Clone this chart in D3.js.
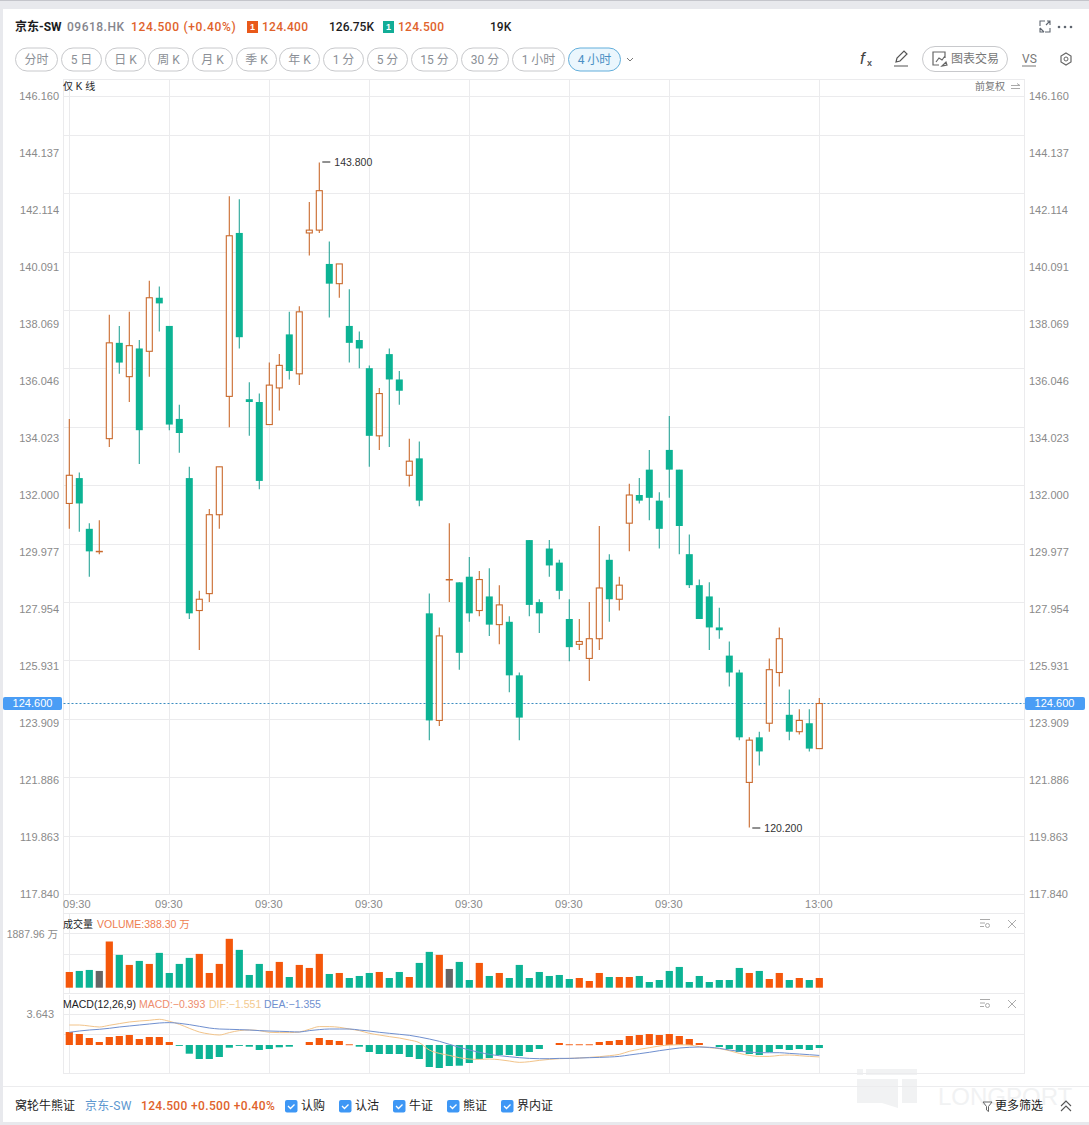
<!DOCTYPE html>
<html>
<head>
<meta charset="utf-8">
<script src="https://cdnjs.cloudflare.com/ajax/libs/d3/7.8.5/d3.min.js"></script>
<style>
	body { margin: 0; background: #fff; }
	svg { display: block; }
	text { font-family: "Liberation Sans", "Noto Sans CJK SC", sans-serif; }
	.din { font-family: Roboto, "Noto Sans CJK SC", sans-serif; }
	.tick text { fill: #8a8a8a; font-size: 11px; font-family: "Liberation Sans", sans-serif; }
</style>
</head>
<body>
<div id="chart"></div>
<script>
var opens = [131.7,132.6,130.8,130.0,134.0,137.4,136.2,137.2,137.1,139.0,138.0,134.7,132.6,127.9,128.5,131.3,135.5,141.3,135.4,135.3,134.5,135.8,137.7,136.3,141.3,141.4,140.2,139.5,138.0,137.5,136.5,134.1,137.0,136.1,132.7,133.3,127.8,124.0,129.0,128.9,129.1,127.9,128.4,127.4,127.5,125.6,130.4,128.2,130.1,129.6,127.6,126.7,126.2,126.9,129.7,128.3,131.0,132.0,132.9,131.8,133.6,132.9,129.9,128.8,128.4,127.3,126.3,125.7,121.8,123.4,123.9,125.7,124.2,123.6,123.9,123.0]
var closes = [132.7,131.7,130.0,130.0,137.4,136.7,137.3,134.3,139.0,138.8,134.5,134.2,127.8,128.3,131.3,133.0,141.2,137.6,135.3,132.5,135.9,136.6,136.4,138.5,141.4,142.8,139.5,140.2,137.4,137.2,134.1,135.6,136.1,135.7,133.2,131.8,124.0,127.0,129.0,126.4,127.8,129.0,127.4,128.1,125.6,124.1,128.1,127.8,129.5,128.6,126.6,126.8,126.9,128.7,128.3,128.8,132.0,131.8,131.9,130.8,132.9,130.9,128.8,127.6,127.3,127.2,125.7,123.4,123.3,122.9,125.8,126.9,123.6,124.0,123.0,124.6]
var highs = [134.7,132.8,131.0,131.1,138.4,138.0,138.5,137.5,139.6,139.4,138.0,135.2,133.0,128.6,131.5,133.0,142.6,142.5,136.0,135.6,136.7,137.0,138.5,138.7,142.4,143.8,141.0,140.2,139.3,137.8,136.6,135.8,137.2,136.4,134.0,133.9,128.5,127.3,131.0,128.9,129.8,129.3,129.4,128.8,127.7,125.7,130.4,128.3,130.4,129.7,128.3,127.6,128.2,130.9,129.9,129.1,132.4,132.6,133.6,132.1,134.8,132.9,130.6,129.0,128.9,128.0,126.8,125.8,123.4,123.6,126.2,127.3,125.1,124.4,124.4,124.8]
var lows = [130.8,130.7,129.1,129.9,133.7,136.3,135.3,133.1,136.2,137.8,134.3,133.5,127.6,126.5,128.2,130.8,134.4,137.2,134.1,132.2,134.5,135.0,136.1,135.9,140.5,141.3,138.3,139.0,136.7,136.5,133.0,133.6,133.7,135.2,132.3,131.6,123.3,123.8,128.2,125.8,127.5,127.7,127.0,126.7,125.0,123.3,127.7,127.1,129.1,128.3,126.1,126.5,125.4,126.5,127.5,127.9,130.0,131.7,131.1,130.1,131.9,129.9,128.7,127.6,126.5,126.9,125.2,123.3,120.2,122.4,123.6,125.2,123.3,123.5,122.9,123.0]
// 成交量,单位万
var volumes = [629,670,710,670,1848,1312,911,1071,951,1393,589,951,1192,1352,589,951,1955,1513,509,951,670,1031,428,911,790,1352,549,589,388,469,589,629,388,629,428,991,1433,1312,750,1031,308,991,469,589,388,911,388,629,469,509,348,388,268,589,428,428,428,469,228,308,670,830,228,469,228,308,308,790,589,670,348,589,308,388,308,388.3]
var macdBars = [1.69,1.43,0.91,0.39,1.04,1.17,1.30,0.78,1.04,1.04,0.39,-0.04,-1.13,-1.82,-1.82,-1.56,-0.35,-0.09,-0.22,-0.65,-0.52,-0.30,-0.22,0,0.39,0.91,0.65,0.52,0.09,-0.22,-0.91,-1.17,-1.17,-1.17,-1.56,-1.82,-2.86,-2.99,-2.73,-2.69,-2.34,-1.82,-1.69,-1.30,-1.30,-1.43,-0.91,-0.52,0,0.26,0.09,0.09,0.09,0.39,0.52,0.65,1.17,1.30,1.43,1.30,1.43,1.17,0.78,0.26,0,-0.26,-0.52,-0.91,-1.17,-1.30,-0.91,-0.52,-0.65,-0.52,-0.65,-0.393]
var difLine = [2.60,2.60,2.47,2.34,2.56,2.78,2.99,3.12,3.21,3.34,3.08,2.69,2.17,1.69,1.43,1.30,1.61,1.87,1.95,1.87,1.65,1.61,1.61,1.69,2.04,2.39,2.39,2.30,2.08,1.87,1.52,1.30,1.09,0.91,0.65,0.30,-0.65,-1.09,-1.35,-1.65,-1.82,-1.87,-1.82,-1.91,-2.08,-2.26,-2.17,-2.00,-1.87,-1.78,-1.74,-1.69,-1.61,-1.52,-1.39,-1.22,-0.82,-0.56,-0.35,-0.13,0,0.04,0,-0.22,-0.35,-0.48,-0.74,-1.09,-1.35,-1.48,-1.48,-1.35,-1.30,-1.39,-1.48,-1.551]
var deaLine = [1.65,1.82,1.95,2.04,2.17,2.34,2.47,2.60,2.73,2.86,2.91,2.82,2.65,2.43,2.21,2.08,2.04,2.00,1.95,1.87,1.82,1.78,1.74,1.69,1.87,2.00,2.08,2.08,2.08,1.95,1.82,1.65,1.52,1.39,1.26,1.04,0.78,0.48,0.09,-0.30,-0.65,-0.95,-1.22,-1.39,-1.52,-1.65,-1.74,-1.78,-1.78,-1.74,-1.74,-1.69,-1.65,-1.61,-1.56,-1.48,-1.30,-1.13,-0.95,-0.74,-0.56,-0.39,-0.30,-0.26,-0.30,-0.43,-0.65,-0.82,-0.91,-1.00,-1.00,-1.00,-1.09,-1.17,-1.26,-1.355]

var priceTicks = [146.16,144.137,142.114,140.091,138.069,136.046,134.023,132,129.977,127.954,125.931,123.909,121.886,119.863,117.84]
var gridPrices = [146.16,144.78,142.71,140.64,138.56,136.49,134.42,132.35,130.27,128.20,126.13,124.06,121.99,119.91,117.84]
var timeIndex = [0,10,20,30,40,50,60,75]
var timeLabels = ['09:30','09:30','09:30','09:30','09:30','09:30','09:30','13:00']
var periods = ['分时','5 日','日 K','周 K','月 K','季 K','年 K','1 分','5 分','15 分','30 分','1 小时','4 小时']
var periodLeft = [15,61,105,148,192,236,279,323,367,411,461,512,568]
var periodRight = [57,101,145,188,232,276,319,363,407,457,508,564,620]
var warrants = ['认购','认沽','牛证','熊证','界内证']
var warrantLeft = [285,339,393,447,501]

var width = 1089, height = 1125
var left = 63.5, right = 1024.5
var upColor = '#c9692c', upFill = '#f4570b', downColor = '#0cb394', downWick = '#2aa598', flatColor = '#666'

var svg = d3.select('#chart').append('svg')
	.attr('width', width)
	.attr('height', height)

svg.append('rect').attr('width', width).attr('height', height).attr('fill', '#e8e9ed')
svg.append('rect').attr('width', width).attr('height', 1).attr('fill', '#c4c5cb')
svg.append('rect').attr('x', 3).attr('y', 9).attr('width', width - 3).attr('height', 1113).attr('fill', '#fff')

var x = d3.scaleLinear().domain([0, 75]).range([69.3, 819.3])
var y = d3.scaleLinear().domain([117.84, 146.16]).range([894, 96])
var yVol = d3.scaleLinear().domain([0, 1887.96]).range([987.7, 940.5])
var yMacd = d3.scaleLinear().domain([-2.6, 3.9]).range([1065, 1015])

function label(txt, px, py, size, color, opts) {
	opts = opts || {}
	return svg.append('text')
		.attr('x', px).attr('y', py)
		.attr('dy', '0.35em')
		.attr('font-size', size)
		.attr('fill', color)
		.attr('font-weight', opts.weight || 400)
		.attr('text-anchor', opts.anchor || 'start')
		.attr('letter-spacing', opts.ls || 0)
		.attr('class', opts.cls || null)
		.text(txt)
}

function hline(py, x1, x2, color) {
	svg.append('line').attr('x1', x1).attr('x2', x2).attr('y1', py).attr('y2', py)
		.attr('stroke', color || '#ebebed').attr('stroke-width', 1)
}

function vline(px, y1, y2, color) {
	svg.append('line').attr('x1', px).attr('x2', px).attr('y1', y1).attr('y2', y2)
		.attr('stroke', color || '#ebebed').attr('stroke-width', 1)
}

// watermark
var mark = svg.append('g').attr('fill', '#f1f2f3')
mark.append('path').attr('d', 'M857 1069h6v6h-6zM866 1069h51v6h-51zM857 1079h41v29l-16-5h-25zM902 1079h15v24h-15z')
mark.append('text').attr('x', 938).attr('y', 1105).attr('font-size', 24).text('LONGPORT')

// grid
hline(79.5, left, right)
gridPrices.forEach(function (d) { hline(Math.round(y(d)) + 0.5, left, right) })
;[913.5, 933.5, 954.5, 993.5, 1014.5, 1034.5, 1073.5].forEach(function (d) { hline(d, left, right) })
hline(1086.5, 3, width, '#ececee')
vline(left, 79, 1074)
vline(right, 79, 1074)
timeIndex.forEach(function (i) {
	var px = Math.round(x(i)) + 0.5
	vline(px, 79, 894)
	vline(px, 914, 993)
	vline(px, 995, 1073)
})

// price axes
var yLeft = svg.append('g').attr('transform', 'translate(59,0)')
	.call(d3.axisLeft(y).tickValues(priceTicks).tickFormat(d3.format('.3f')).tickSize(0).tickPadding(0))
var yRight = svg.append('g').attr('transform', 'translate(1029,0)')
	.call(d3.axisRight(y).tickValues(priceTicks).tickFormat(d3.format('.3f')).tickSize(0).tickPadding(0))
yLeft.select('.domain').remove()
yRight.select('.domain').remove()

var xAxis = svg.append('g').attr('transform', 'translate(0,900)')
	.call(d3.axisBottom(x).tickValues(timeIndex).tickSize(0).tickPadding(0)
		.tickFormat(function (d, i) { return timeLabels[i] }))
xAxis.select('.domain').remove()
xAxis.selectAll('.tick text').attr('dx', function (d, i) { return i == 0 ? 7 : -1 })

// last price line
svg.append('line').attr('x1', left).attr('x2', right).attr('y1', 703.5).attr('y2', 703.5)
	.attr('stroke', '#3a8cc0').attr('stroke-dasharray', '2,2')
;[[3, 59, 32.5], [1025, 60, 1054.5]].forEach(function (t) {
	svg.append('rect').attr('x', t[0]).attr('y', y(124.6) - 6.5).attr('width', t[1]).attr('height', 13)
		.attr('rx', 2).attr('fill', '#4a9df5')
	label('124.600', t[2], y(124.6), 11, '#fff', { anchor: 'middle' })
})

// candles
var candles = opens.map(function (o, i) {
	return { i: i, open: o, close: closes[i], high: highs[i], low: lows[i] }
})

var candle = svg.append('g').selectAll('g').data(candles).enter().append('g')

candle.append('line')
	.attr('x1', function (d) { return x(d.i) })
	.attr('x2', function (d) { return x(d.i) })
	.attr('y1', function (d) { return y(d.high) })
	.attr('y2', function (d) { return y(d.low) })
	.attr('stroke', function (d) { return d.close >= d.open ? upColor : downWick })
	.attr('stroke-width', 1.1)

candle.append('rect')
	.attr('x', function (d) { return d.close >= d.open ? x(d.i) - 3 : x(d.i) - 3.5 })
	.attr('width', function (d) { return d.close >= d.open ? 6 : 7 })
	.attr('y', function (d) { return y(Math.max(d.open, d.close)) })
	.attr('height', function (d) { return Math.max(Math.abs(y(d.open) - y(d.close)), 0.4) })
	.attr('fill', function (d) { return d.close >= d.open ? '#fff' : downColor })
	.attr('stroke', function (d) { return d.close >= d.open ? upColor : 'none' })
	.attr('stroke-width', 1.1)

// high and low notes
svg.append('line').attr('x1', x(25) + 3).attr('x2', x(25) + 11).attr('y1', y(143.8) - 0.5).attr('y2', y(143.8) - 0.5).attr('stroke', '#222')
label('143.800', x(25) + 15, y(143.8), 10.5, '#333')
svg.append('line').attr('x1', x(68) + 3).attr('x2', x(68) + 11).attr('y1', y(120.2) + 0.5).attr('y2', y(120.2) + 0.5).attr('stroke', '#222')
label('120.200', x(68) + 15, y(120.2) + 1, 10.5, '#333')

// volume
svg.append('g').selectAll('rect').data(volumes).enter().append('rect')
	.attr('x', function (d, i) { return x(i) - 3.6 })
	.attr('width', 7.2)
	.attr('y', function (d) { return yVol(d) })
	.attr('height', function (d) { return yVol(0) - yVol(d) })
	.attr('fill', function (d, i) {
		if (closes[i] == opens[i]) return flatColor
		return closes[i] > opens[i] ? upFill : downColor
	})

// macd bars and lines
svg.append('g').selectAll('rect').data(macdBars).enter().append('rect')
	.attr('x', function (d, i) { return x(i) - 3.6 })
	.attr('width', 7.2)
	.attr('y', function (d) { return d >= 0 ? yMacd(d) : yMacd(0) })
	.attr('height', function (d) { return d == 0 ? 0 : Math.max(Math.abs(yMacd(d) - yMacd(0)), 0.9) })
	.attr('fill', function (d) { return d >= 0 ? upFill : downColor })

var macdLine = d3.line()
	.x(function (d, i) { return x(i) })
	.y(function (d) { return yMacd(d) })
	.curve(d3.curveMonotoneX)

svg.append('path').attr('d', macdLine(difLine)).attr('fill', 'none').attr('stroke', '#f2c48a').attr('stroke-width', 1)
svg.append('path').attr('d', macdLine(deaLine)).attr('fill', 'none').attr('stroke', '#6f8fcf').attr('stroke-width', 1)

// header
label('京东-SW', 15, 27, 12, '#1c1c1e', { weight: 700, cls: 'din' })
label('09618.HK', 67, 27, 12, '#85858d', { weight: 500, cls: 'din', ls: 0.5 })
label('124.500 (+0.40%)', 131, 27, 12, '#e0622b', { weight: 500, cls: 'din', ls: 0.65 })
svg.append('rect').attr('x', 247).attr('y', 21).attr('width', 11).attr('height', 12).attr('fill', '#e9591a')
label('1', 252.5, 27, 9, '#fff', { anchor: 'middle', weight: 700 })
label('124.400', 262, 27, 12, '#e0622b', { weight: 500, cls: 'din', ls: 0.3 })
label('126.75K', 329, 27, 12, '#1c1c1e', { weight: 500, cls: 'din' })
svg.append('rect').attr('x', 383).attr('y', 21).attr('width', 11).attr('height', 12).attr('fill', '#12ad97')
label('1', 388.5, 27, 9, '#fff', { anchor: 'middle', weight: 700 })
label('124.500', 398, 27, 12, '#e0622b', { weight: 500, cls: 'din', ls: 0.3 })
label('19K', 490, 27, 12, '#1c1c1e', { weight: 500, cls: 'din' })

// expand and more icons
svg.append('path').attr('fill', 'none').attr('stroke', '#5f6670').attr('stroke-width', 1.1)
	.attr('d', 'M1040 26v-5h5M1046 25l4-4M1050 25v-4h-3M1040 28l4 4M1040 28v4h4M1050 28v4h-5')
;[1059, 1065, 1071].forEach(function (px) {
	svg.append('circle').attr('cx', px).attr('cy', 27).attr('r', 1.3).attr('fill', '#5f6670')
})

// period buttons
periods.forEach(function (d, i) {
	var active = i == periods.length - 1
	svg.append('rect')
		.attr('x', periodLeft[i] + 0.5).attr('y', 48)
		.attr('width', periodRight[i] - periodLeft[i]).attr('height', 23)
		.attr('rx', 11.5)
		.attr('fill', active ? '#ebf6fd' : '#fff')
		.attr('stroke', active ? '#62aedb' : '#c8c9cc')
	label(d, (periodLeft[i] + periodRight[i]) / 2 + 0.5, 59.5, 12, active ? '#4a8fc4' : '#8b8f96', { anchor: 'middle', cls: 'din' })
})
svg.append('path').attr('d', 'M627 58l3 3 3-3').attr('fill', 'none').attr('stroke', '#777').attr('stroke-width', 1)

// tool icons
svg.append('text').attr('x', 860).attr('y', 64).attr('font-size', 17).attr('font-style', 'italic').attr('fill', '#444').text('f')
svg.append('text').attr('x', 867).attr('y', 66).attr('font-size', 9).attr('font-weight', 700).attr('fill', '#555').text('x')
svg.append('path').attr('fill', 'none').attr('stroke', '#555').attr('stroke-width', 1.2)
	.attr('d', 'M896 62l1 -4 7-7 3 3-7 7zM894 66h14')
svg.append('rect').attr('x', 922.5).attr('y', 46.5).attr('width', 85).attr('height', 25).attr('rx', 12.5).attr('fill', '#fff').attr('stroke', '#c8c9cc')
svg.append('path').attr('fill', 'none').attr('stroke', '#666').attr('stroke-width', 1.2)
	.attr('d', 'M945 58v-6h-12v13h6M936 62l3-4 3 2 3-4M942 66l4-4 1 3z')
label('图表交易', 951, 59, 12, '#777')
label('VS', 1022, 59, 12, '#777', { cls: 'din' })
svg.append('line').attr('x1', 1022).attr('x2', 1036).attr('y1', 66).attr('y2', 66).attr('stroke', '#777')
svg.append('path').attr('fill', 'none').attr('stroke', '#666').attr('stroke-width', 1.2)
	.attr('d', 'M1066 53l5 3v6l-5 3-5-3v-6z')
svg.append('circle').attr('cx', 1066).attr('cy', 59).attr('r', 2).attr('fill', 'none').attr('stroke', '#666')

// panel titles
label('仅 K 线', 63, 86.5, 10, '#1c1c1e')
label('前复权', 975, 86.5, 10, '#777')
svg.append('path').attr('fill', 'none').attr('stroke', '#aaa')
	.attr('d', 'M1011 85.5h9l-3-2M1020 88.5h-9')

label('成交量', 63, 924, 10, '#1c1c1e')
label('VOLUME:388.30 万', 97, 924, 10.5, '#ee7d50')
label('1887.96 万', 58, 934.5, 10.5, '#8a8a8a', { anchor: 'end' })

label('MACD(12,26,9)', 63, 1004.5, 10.5, '#1c1c1e')
label('MACD:−0.393', 139, 1004.5, 10.5, '#ee8d6d')
label('DIF:−1.551', 209, 1004.5, 10.5, '#f3c98f')
label('DEA:−1.355', 264, 1004.5, 10.5, '#6f8fcf')
label('3.643', 54, 1014, 11, '#8a8a8a', { anchor: 'end' })

;[924, 1004].forEach(function (cy) {
	svg.append('path').attr('fill', 'none').attr('stroke', '#aaa')
		.attr('d', 'M980 ' + (cy - 4.5) + 'h10M980 ' + (cy - 1) + 'h5M980 ' + (cy + 2.5) + 'h4M1008 ' + (cy - 4) + 'l8 8M1016 ' + (cy - 4) + 'l-8 8')
	svg.append('circle').attr('cx', 987.5).attr('cy', cy + 1.5).attr('r', 2).attr('fill', 'none').attr('stroke', '#aaa')
})

// bottom bar
label('窝轮牛熊证', 15, 1106, 12, '#222')
label('京东-SW', 85, 1106, 12, '#5d97cf', { cls: 'din', ls: 0.3 })
label('124.500 +0.500 +0.40%', 141, 1106, 12, '#e0622b', { weight: 500, cls: 'din', ls: 0.35 })
warrants.forEach(function (d, i) {
	svg.append('rect').attr('x', warrantLeft[i]).attr('y', 1100).attr('width', 12.5).attr('height', 12.5).attr('rx', 2).attr('fill', '#3e97f5')
	svg.append('path').attr('d', 'M' + (warrantLeft[i] + 3) + ' 1106l2.5 2.5 4-4').attr('fill', 'none').attr('stroke', '#fff').attr('stroke-width', 1.3)
	label(d, warrantLeft[i] + 16, 1106, 12, '#222')
})
svg.append('path').attr('fill', 'none').attr('stroke', '#666')
	.attr('d', 'M983 1102h9l-3.5 4.5v5l-2-1.5v-3.5z')
label('更多筛选', 995, 1106, 12, '#222')
svg.append('path').attr('fill', 'none').attr('stroke', '#555').attr('stroke-width', 1.1)
	.attr('d', 'M1061 1106l5-5 5 5M1061 1111l5-5 5 5')
</script>
</body>
</html>
